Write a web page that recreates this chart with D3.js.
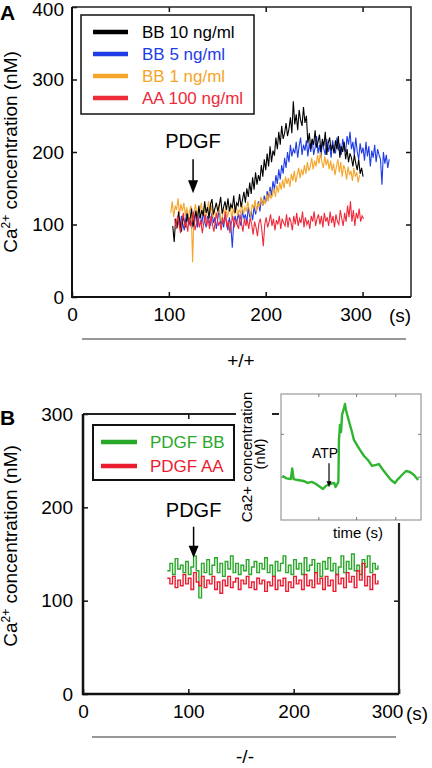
<!DOCTYPE html>
<html><head><meta charset="utf-8">
<script src="https://cdn.jsdelivr.net/npm/d3@7"></script>
<style>
html,body{margin:0;padding:0;background:#fff;}
svg{display:block;font-family:"Liberation Sans",Arial,sans-serif;}
</style></head>
<body>
<svg id="c" width="432" height="768"></svg>
<script>
// ---------------- DATA ----------------
// Panel A (+/+), sampled every 1.5 s from the given start time
const stepA = 1.5;
const bb10Start = 104;
const bb10 = [98,76,108,95,118,102,90,112,104,96,
 115,100,108,122,97,110,118,104,126,109,
 120,112,132,116,124,108,128,135,114,122,
 130,118,126,138,115,124,132,120,136,118,
 128,122,140,116,130,126,142,124,134,145,
 130,150,138,158,142,165,148,172,155,168,
 160,182,166,190,175,198,180,208,186,202,
 195,220,204,228,210,236,218,226,240,222,
 232,248,226,270,238,252,230,258,244,236,
 262,240,250,212,226,204,218,210,230,206,
 214,224,200,218,208,228,196,212,220,202,
 210,198,216,204,222,192,208,200,214,190,
 204,186,198,192,180,196,184,175,190,170,
 178,166];
const bb5Start = 110;
const bb5 = [104,96,112,100,92,108,118,98,106,94,
 110,102,120,96,108,114,100,118,104,96,
 112,106,98,116,102,110,94,108,120,100,
 106,96,114,102,92,110,98,68,104,112,
 100,116,106,98,120,108,114,102,124,110,
 118,106,126,114,122,132,118,136,126,140,
 130,146,136,152,140,160,148,168,156,176,
 162,182,170,192,178,200,186,210,194,204,
 198,214,192,208,220,196,210,202,216,194,
 212,200,218,196,206,222,198,210,192,214,
 204,196,218,200,210,192,216,204,198,220,
 202,212,196,218,206,200,222,210,228,204,
 214,196,220,200,190,212,198,206,188,214,
 194,208,180,202,192,210,186,204,196,190,
 155,200,184,196,178,190];
const bb1Start = 102;
const bb1 = [116,132,110,126,120,136,114,128,118,130,
 112,124,108,120,126,48,116,128,110,122,
 118,130,112,124,106,120,132,114,126,110,
 122,108,118,128,112,104,120,116,126,110,
 118,124,108,122,114,128,112,120,116,130,
 114,124,118,132,120,112,128,122,134,118,
 130,124,138,126,134,128,142,132,146,136,
 140,150,138,154,144,158,148,162,150,166,
 156,164,152,170,160,174,158,168,178,164,
 176,168,182,170,186,174,180,192,176,188,
 180,196,184,200,186,178,194,182,190,176,
 188,174,184,168,180,190,172,186,166,182,
 176,162,180,168,174,160,178,166,172,158,
 168];
const aa100Start = 106;
const aa100 = [108,94,112,100,88,106,116,96,104,90,
 110,98,104,118,92,100,112,96,106,88,
 102,114,98,108,94,112,100,90,106,116,
 98,104,92,110,100,118,96,106,88,102,
 112,96,108,100,94,114,102,90,108,98,
 106,94,110,100,86,104,96,84,102,108,
 92,70,100,110,96,104,114,98,108,92,
 106,100,112,94,108,102,98,114,96,110,
 104,92,112,100,116,98,108,102,118,96,
 110,100,106,94,112,104,118,98,108,114,
 100,112,96,116,104,110,98,118,102,112,
 96,114,104,100,120,108,98,116,104,126,
 110,132,104,120,98,116,108,122,104,112,
 108];
const seriesA = ["BB 10 ng/ml","BB 5 ng/ml","BB 1 ng/ml","AA 100 ng/ml"];
const xTicksA = [0,100,200,300];
const yTicksA = [0,100,200,300,400];
const pdgfA = {t:125, v:143};

// Panel B (-/-), sampled every 2.5 s
const stepB = 2.5;
const startB = 80;
const pdgfBB = [132,140,128,145,134,138,130,142,128,136,148,132,103,140,130,144,128,138,146,130,140,126,142,134,148,130,140,128,138,132,144,128,136,142,130,140,134,146,130,138,126,142,132,140,148,130,138,128,144,134,140,128,146,132,138,144,130,140,126,142,134,146,132,140,128,136,148,130,142,134,150,132,138,128,144,136,148,130,140,134,138];
const pdgfAA = [124,118,126,114,122,116,128,118,124,112,130,120,116,126,114,122,118,126,112,120,108,122,116,126,114,120,124,112,122,118,126,114,120,112,124,118,122,110,120,116,126,112,122,116,124,110,120,114,126,118,122,112,128,116,122,114,130,118,124,112,126,116,122,110,128,118,124,114,130,120,126,114,132,122,140,116,126,112,128,118,122];
const seriesB = ["PDGF BB","PDGF AA"];
const xTicksB = [0,100,200,300];
const yTicksB = [0,100,200,300];
const pdgfB = {t:105, v:146};

// Inset (ATP response), arbitrary units
const insetT = [1,4,7,8,9,12,16,19,22,25,28,30,32,35,38,39,41,41.4,42.1,42.9,43.6,45,45.7,46.4,47.9,49.3,50.7,52.1,54.3,56.4,59.3,62.1,65,67.9,70,72.9,75.7,78.6,81.4,83.6,86.4,89.3,92.1,95,98];
const insetV = [35,33,32.5,41,32.5,31.7,31,29.4,30.2,28.6,26.2,24.6,27,28.6,29.4,26.2,30.2,63.5,75.4,69.8,83.3,88.9,92.1,87.3,81,75.4,69.8,63.5,59.5,55.6,50.8,47.6,42.9,43.7,44.4,39.7,35.7,31.7,29.4,32.5,35.7,38.9,38.1,35.7,31.7];
const insetTicks = [27,54,82];
const insetYTicks = [34,68];
const atp = {t:34.3, v:26};

// ---------------- DRAW ----------------
const svg = d3.select("#c");
const FONT = 19;

function panel(opt){
  const g = svg.append("g");
  const x = d3.scaleLinear().domain(opt.xDomain).range([opt.x0, opt.x1]);
  const y = d3.scaleLinear().domain(opt.yDomain).range([opt.y1, opt.y0]);
  const ax = g.append("g").attr("transform",`translate(0,${opt.y1})`)
    .call(d3.axisBottom(x).tickValues(opt.xTicks).tickSizeInner(-5).tickSizeOuter(0).tickPadding(opt.xPad));
  const ay = g.append("g").attr("transform",`translate(${opt.x0},0)`)
    .call(d3.axisLeft(y).tickValues(opt.yTicks).tickSizeInner(-5).tickSizeOuter(0).tickPadding(opt.yPad));
  const at = g.append("g").attr("transform",`translate(0,${opt.y0})`)
    .call(d3.axisTop(x).tickValues(opt.xTicks.filter(v=>v>opt.xDomain[0]&&v<opt.xDomain[1])).tickSizeInner(-5).tickSizeOuter(0).tickFormat(""));
  const ar = g.append("g").attr("transform",`translate(${opt.x1},0)`)
    .call(d3.axisRight(y).tickValues(opt.yTicks.filter(v=>v>opt.yDomain[0]&&v<opt.yDomain[1])).tickSizeInner(-5).tickSizeOuter(0).tickFormat(""));
  [ax,ay,at,ar].forEach(a=>{
    a.select(".domain").remove();
    a.selectAll("line").attr("stroke","#111").attr("stroke-width",1.5);
    a.selectAll("text").attr("font-size",FONT).attr("font-family","Liberation Sans, Arial, sans-serif").attr("fill","#000");
  });
  ax.selectAll(".tick text").filter(d=>d===opt.xTicks[opt.xTicks.length-1]).attr("dx",opt.lastDx);
  ay.selectAll(".tick text").filter(d=>d===opt.yDomain[1]).attr("transform",`translate(0,${opt.topNudge})`);
  g.append("path").attr("fill","none").attr("stroke","#222").attr("stroke-width",opt.thin)
    .attr("d",`M${opt.x0},${opt.y0}H${opt.x1}V${opt.y1}`);
  g.append("path").attr("fill","none").attr("stroke","#111").attr("stroke-width",opt.thick)
    .attr("d",`M${opt.x0},${opt.y0}V${opt.y1}H${opt.x1}`);
  return {g,x,y};
}

// ===== Panel A =====
const A = panel({x0:72,x1:411,y0:7,y1:297,xDomain:[0,350],yDomain:[0,400],
  xTicks:xTicksA,yTicks:yTicksA,xPad:11,yPad:8,lastDx:-7,thin:1.5,thick:2,topNudge:2});
const colorsA = ["#000000","#1f3de6","#f5a52a","#ee2b3b"];
const dataA = [
  {v:bb5, s:bb5Start, c:colorsA[1]},
  {v:bb1, s:bb1Start, c:colorsA[2]},
  {v:bb10, s:bb10Start, c:colorsA[0]},
  {v:aa100, s:aa100Start, c:colorsA[3]}
];
const lineA = d3.line().x(d=>A.x(d[0])).y(d=>A.y(d[1]));
dataA.forEach(s=>{
  A.g.append("path").datum(s.v.map((v,i)=>[s.s+i*stepA, v]))
   .attr("fill","none").attr("stroke",s.c).attr("stroke-width",1.1).attr("d",lineA);
});
A.g.append("rect").attr("x",81).attr("y",15).attr("width",173).attr("height",99)
  .attr("fill","#fff").attr("stroke","#111").attr("stroke-width",1.5);
seriesA.forEach((name,i)=>{
  const yy = 32 + i*22;
  A.g.append("line").attr("x1",93).attr("x2",128).attr("y1",yy).attr("y2",yy)
    .attr("stroke",colorsA[i]).attr("stroke-width",4.5);
  A.g.append("text").attr("x",142).attr("y",yy+6).attr("font-size",17)
    .attr("fill",i===0?"#000":colorsA[i]).text(name);
});
{
  const px = A.x(pdgfA.t), tip = A.y(pdgfA.v);
  A.g.append("text").attr("x",px).attr("y",tip-45).attr("text-anchor","middle").attr("font-size",20).text("PDGF");
  A.g.append("line").attr("x1",px).attr("x2",px).attr("y1",tip-34).attr("y2",tip-10).attr("stroke","#000").attr("stroke-width",1.5);
  A.g.append("path").attr("d",`M${px-5},${tip-13}L${px+5},${tip-13}L${px},${tip}Z`).attr("fill","#000");
}
svg.append("text").attr("x",0).attr("y",20).attr("font-size",21).attr("font-weight","bold").text("A");
svg.append("text").attr("x",400).attr("y",322).attr("font-size",FONT).attr("text-anchor","middle").text("(s)");
svg.append("line").attr("x1",82).attr("x2",406).attr("y1",339).attr("y2",339).attr("stroke","#333").attr("stroke-width",1);
svg.append("text").attr("x",241).attr("y",367).attr("font-size",19).attr("text-anchor","middle").text("+/+");
function ylab(cx,cy){
  const t = svg.append("text").attr("transform",`translate(${cx},${cy}) rotate(-90)`)
    .attr("text-anchor","middle").attr("font-size",19);
  t.append("tspan").text("Ca");
  t.append("tspan").attr("font-size",12).attr("dy",-7).text("2+");
  t.append("tspan").attr("dy",7).text(" concentration (nM)");
}
ylab(17,152);

// ===== Panel B =====
const B = panel({x0:83,x1:399,y0:414,y1:694,xDomain:[0,300],yDomain:[0,300],
  xTicks:xTicksB,yTicks:yTicksB,xPad:11,yPad:10,lastDx:-12,thin:2.2,thick:2.5,topNudge:0});
const colorsB = ["#2aa82a","#ea1c30"];
const lineB = d3.line().curve(d3.curveStepAfter).x(d=>B.x(d[0])).y(d=>B.y(d[1]));
[pdgfBB,pdgfAA].forEach((arr,k)=>{
  B.g.append("path").datum(arr.map((v,i)=>[startB+i*stepB, v]))
   .attr("fill","none").attr("stroke",colorsB[k]).attr("stroke-width",1.4).attr("d",lineB);
});
B.g.append("rect").attr("x",93).attr("y",425).attr("width",141).attr("height",55)
  .attr("fill","#fff").attr("stroke","#111").attr("stroke-width",2);
seriesB.forEach((name,i)=>{
  const yy = 442 + i*24;
  B.g.append("line").attr("x1",101).attr("x2",137).attr("y1",yy).attr("y2",yy)
    .attr("stroke",colorsB[i]).attr("stroke-width",4.5);
  B.g.append("text").attr("x",150).attr("y",yy+6).attr("font-size",17).attr("fill",colorsB[i]).text(name);
});
{
  const px = B.x(pdgfB.t), tip = B.y(pdgfB.v);
  B.g.append("text").attr("x",px).attr("y",tip-41).attr("text-anchor","middle").attr("font-size",20).text("PDGF");
  B.g.append("line").attr("x1",px).attr("x2",px).attr("y1",tip-31).attr("y2",tip-9).attr("stroke","#000").attr("stroke-width",1.5);
  B.g.append("path").attr("d",`M${px-5},${tip-12}L${px+5},${tip-12}L${px},${tip}Z`).attr("fill","#000");
}
svg.append("text").attr("x",0).attr("y",425).attr("font-size",21).attr("font-weight","bold").text("B");
svg.append("text").attr("x",417).attr("y",720).attr("font-size",FONT).attr("text-anchor","middle").text("(s)");
svg.append("line").attr("x1",92).attr("x2",396).attr("y1",737).attr("y2",737).attr("stroke","#333").attr("stroke-width",1);
svg.append("text").attr("x",245).attr("y",763).attr("font-size",19).attr("text-anchor","middle").text("-/-");
ylab(17,546);

// ===== Inset =====
const ix0=281, ix1=421, iy0=394, iy1=520;
svg.append("rect").attr("x",236).attr("y",386).attr("width",36).attr("height",142).attr("fill","#fff");
svg.append("rect").attr("x",279).attr("y",390).attr("width",146).attr("height",133).attr("fill","#fff");
const ix = d3.scaleLinear().domain([0,100]).range([ix0,ix1]);
const iy = d3.scaleLinear().domain([0,100]).range([iy1,iy0]);
const ins = svg.append("g");
ins.append("rect").attr("x",ix0).attr("y",iy0).attr("width",ix1-ix0).attr("height",iy1-iy0)
  .attr("fill","#fff").attr("stroke","#999").attr("stroke-width",1.2);
insetTicks.forEach(t=>{
  ins.append("line").attr("x1",ix(t)).attr("x2",ix(t)).attr("y1",iy0).attr("y2",iy0+3).attr("stroke","#777");
  ins.append("line").attr("x1",ix(t)).attr("x2",ix(t)).attr("y1",iy1).attr("y2",iy1-3).attr("stroke","#777");
});
insetYTicks.forEach(v=>{
  ins.append("line").attr("x1",ix0).attr("x2",ix0+3).attr("y1",iy(v)).attr("y2",iy(v)).attr("stroke","#777");
  ins.append("line").attr("x1",ix1).attr("x2",ix1-3).attr("y1",iy(v)).attr("y2",iy(v)).attr("stroke","#777");
});
ins.append("path").datum(insetT.map((t,i)=>[t,insetV[i]]))
  .attr("fill","none").attr("stroke","#2fb52f").attr("stroke-width",2.4).attr("stroke-linejoin","round")
  .attr("d",d3.line().x(d=>ix(d[0])).y(d=>iy(d[1])));
{
  const px = ix(atp.t), tip = iy(atp.v);
  ins.append("text").attr("x",px-4).attr("y",tip-29).attr("text-anchor","middle").attr("font-size",14).text("ATP");
  ins.append("line").attr("x1",px).attr("x2",px).attr("y1",tip-24).attr("y2",tip-4).attr("stroke","#000").attr("stroke-width",1.2);
  ins.append("path").attr("d",`M${px-2.5},${tip-6}L${px+2.5},${tip-6}L${px},${tip}Z`).attr("fill","#000");
}
ins.append("text").attr("transform","translate(252,457) rotate(-90)").attr("text-anchor","middle")
  .attr("font-size",15).text("Ca2+ concentration");
ins.append("text").attr("transform","translate(265,454) rotate(-90)").attr("text-anchor","middle")
  .attr("font-size",15).text("(nM)");
ins.append("text").attr("x",358).attr("y",538).attr("text-anchor","middle").attr("font-size",15).text("time (s)");
</script>
</body></html>
